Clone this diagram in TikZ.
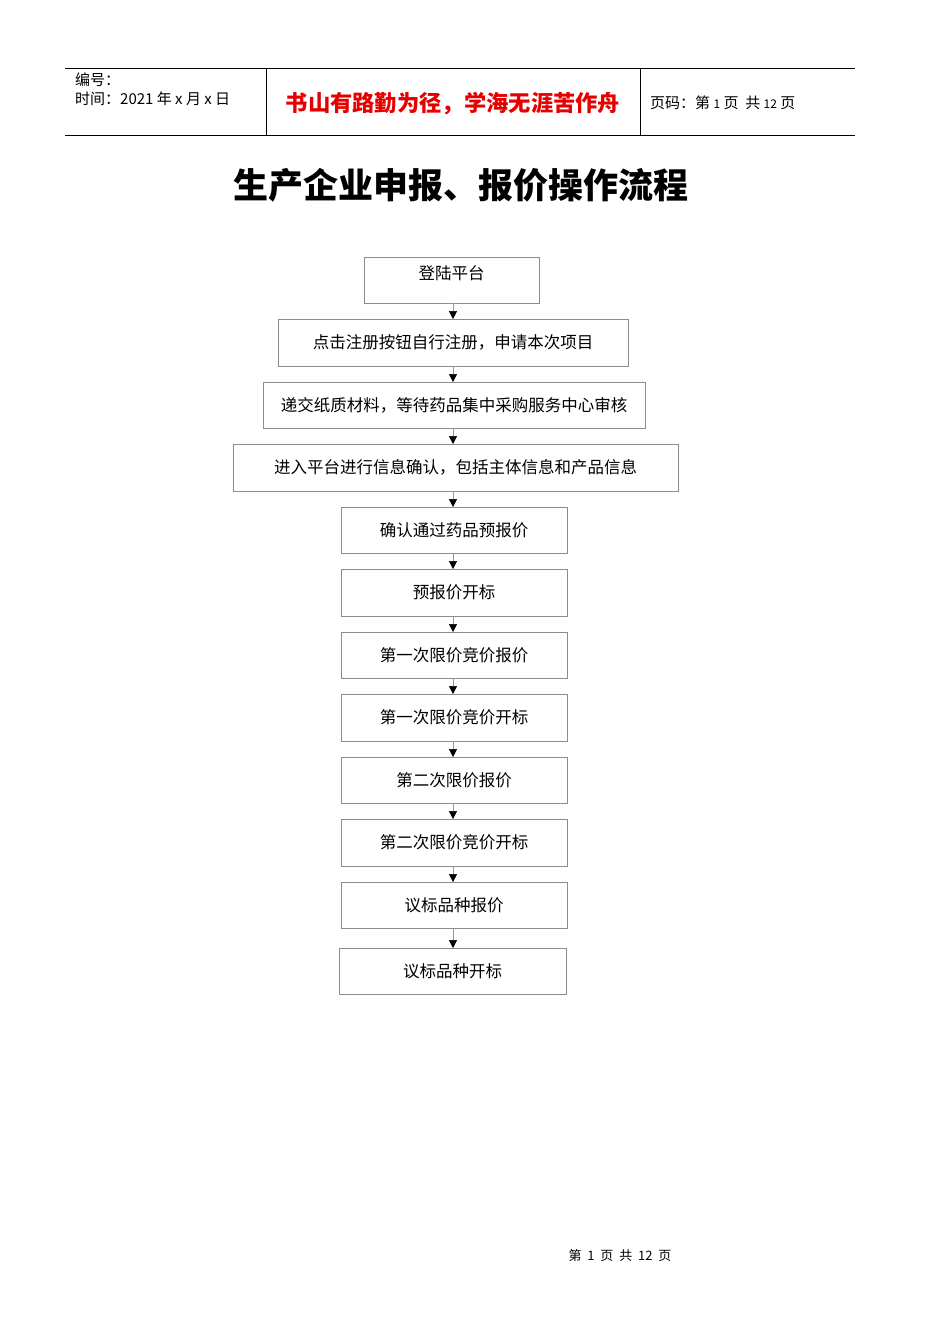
\documentclass[tikz,border=0pt]{standalone}
\usepackage{fontspec}
\setmainfont{Noto Sans CJK SC}
\usetikzlibrary{arrows.meta}
\begin{document}
\begin{tikzpicture}[x=1pt,y=-1pt,
  bx/.style={draw=black!45,line width=0.6pt},
  lb/.style={font=\fontsize{16.5}{17}\selectfont,inner sep=0pt},
  ar/.style={draw=black!40,line width=0.5pt,-{Triangle[length=8pt,width=8pt,fill=black,color=black]}}]
\useasboundingbox (0,0) rectangle (950,1344);
\fill[white] (0,0) rectangle (950,1344);
\draw[line width=0.6pt] (65,68) -- (855,68) (65,135) -- (855,135) (266,68) -- (266,135) (640,68) -- (640,135);
\node[anchor=west,inner sep=0pt,font=\fontsize{15}{16}\selectfont] (h1) at (75,80) {编号：};
\node[anchor=west,inner sep=0pt,font=\fontsize{15}{16}\selectfont] (h2) at (75,99) {时间：2021 年 x 月 x 日};
\node[inner sep=0pt,font=\fontsize{22.3}{23}\selectfont\bfseries,text={rgb,255:red,230;green,0;blue,0}] (h3) at (453,104) {书山有路勤为径，学海无涯苦作舟};
\node[anchor=west,inner sep=0pt,font=\fontsize{15}{16}\selectfont] (h4) at (650,103) {页码：第 {\fontsize{12}{12}\selectfont 1} 页\ \ 共 {\fontsize{12}{12}\selectfont 12} 页};
\node[inner sep=0pt,font=\fontsize{35}{36}\selectfont\bfseries] (title) at (461,185) {生产企业申报、报价操作流程};
\foreach \n/\l/\t/\r/\b/\dy/\txt in {
 1/364/257/539/303/-7/登陆平台,
 2/278/319/628/366/0/点击注册按钮自行注册，申请本次项目,
 3/263/382/645/428/0/递交纸质材料，等待药品集中采购服务中心审核,
 4/233/444/678/491/0/进入平台进行信息确认，包括主体信息和产品信息,
 5/341/507/567/553/0/确认通过药品预报价,
 6/341/569/567/616/0/预报价开标,
 7/341/632/567/678/0/第一次限价竞价报价,
 8/341/694/567/741/0/第一次限价竞价开标,
 9/341/757/567/803/0/第二次限价报价,
 10/341/819/567/866/0/第二次限价竞价开标,
 11/341/882/567/928/0/议标品种报价,
 12/339/948/566/994/0/议标品种开标}{
 \draw[bx] (\l,\t) rectangle (\r,\b);
 \coordinate (t\n) at (453,\t);
 \coordinate (b\n) at (453,\b);
 \node[lb] (n\n) at ({(\l+\r)/2},{\t+(\b-\t)/2+\dy}) {\txt};
}
\foreach \a/\b in {1/2,2/3,3/4,4/5,5/6,6/7,7/8,8/9,9/10,10/11,11/12}{
 \draw[ar] (b\a) -- (t\b);
}
\node[inner sep=0pt,font=\fontsize{13}{14}\selectfont] (foot) at (620,1256) {第\ \ 1\ \ 页\ \ 共\ \ 12\ \ 页};
\end{tikzpicture}
\end{document}
